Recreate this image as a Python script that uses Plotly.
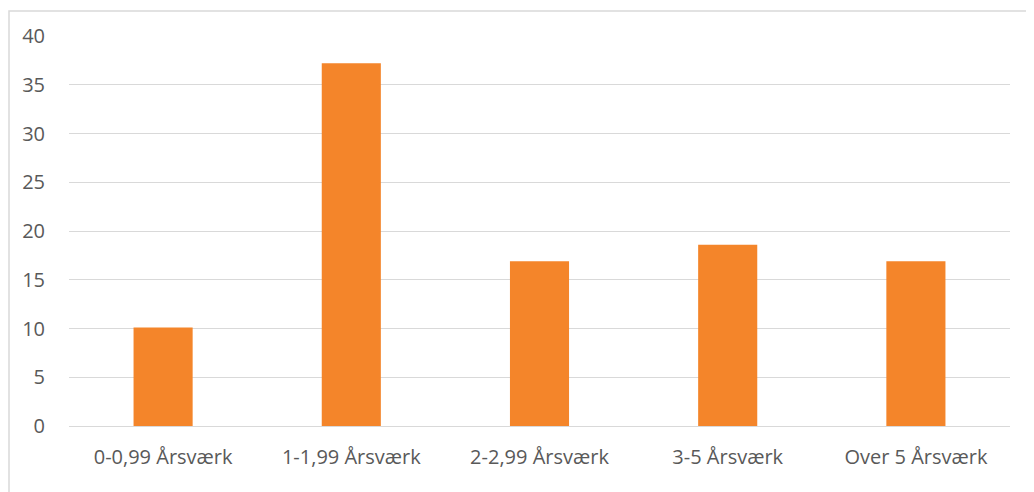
import plotly.graph_objects as go

kategorier = ["0-0,99 Årsværk", "1-1,99 Årsværk", "2-2,99 Årsværk", "3-5 Årsværk", "Over 5 Årsværk"]
vaerdier = [10.1, 37.2, 16.9, 18.6, 16.9]
y_ticks = [0, 5, 10, 15, 20, 25, 30, 35, 40]

ORANGE = "#F4852A"
GRID = "#D9D9D9"
TEKST = "#595959"

# siden har 8px body-margin, saa figuren er gjort tilsvarende mindre
fig = go.Figure(
    go.Bar(
        x=kategorier,
        y=vaerdier,
        marker={"color": ORANGE, "line": {"width": 0}},
    )
)

fig.update_layout(
    width=1026,
    height=484,
    paper_bgcolor="white",
    plot_bgcolor="white",
    bargap=0.686,
    showlegend=False,
    font={"family": "Open Sans", "size": 20, "color": TEKST},
    margin={"l": 61, "r": 24, "t": 28, "b": 66, "autoexpand": False},
    xaxis={
        "showgrid": False,
        "showline": False,
        "ticks": "",
        "ticklabelstandoff": 17,
        "tickfont": {"size": 20, "color": TEKST},
    },
    yaxis={
        "range": [0, 40],
        "tickvals": y_ticks,
        "gridcolor": GRID,
        "gridwidth": 1,
        "zeroline": True,
        "zerolinecolor": GRID,
        "zerolinewidth": 1,
        "ticks": "",
        "ticklabelstandoff": 23,
        "tickfont": {"size": 20, "color": TEKST},
    },
    shapes=[
        {
            "type": "rect",
            "xref": "paper",
            "yref": "paper",
            "x0": (1 - 61) / 941,
            "x1": 1.2,
            "y0": -0.4,
            "y1": 1 + (28 - 3) / 390,
            "line": {"color": GRID, "width": 1.5},
            "layer": "below",
        }
    ],
)

fig.write_html("out.html")
